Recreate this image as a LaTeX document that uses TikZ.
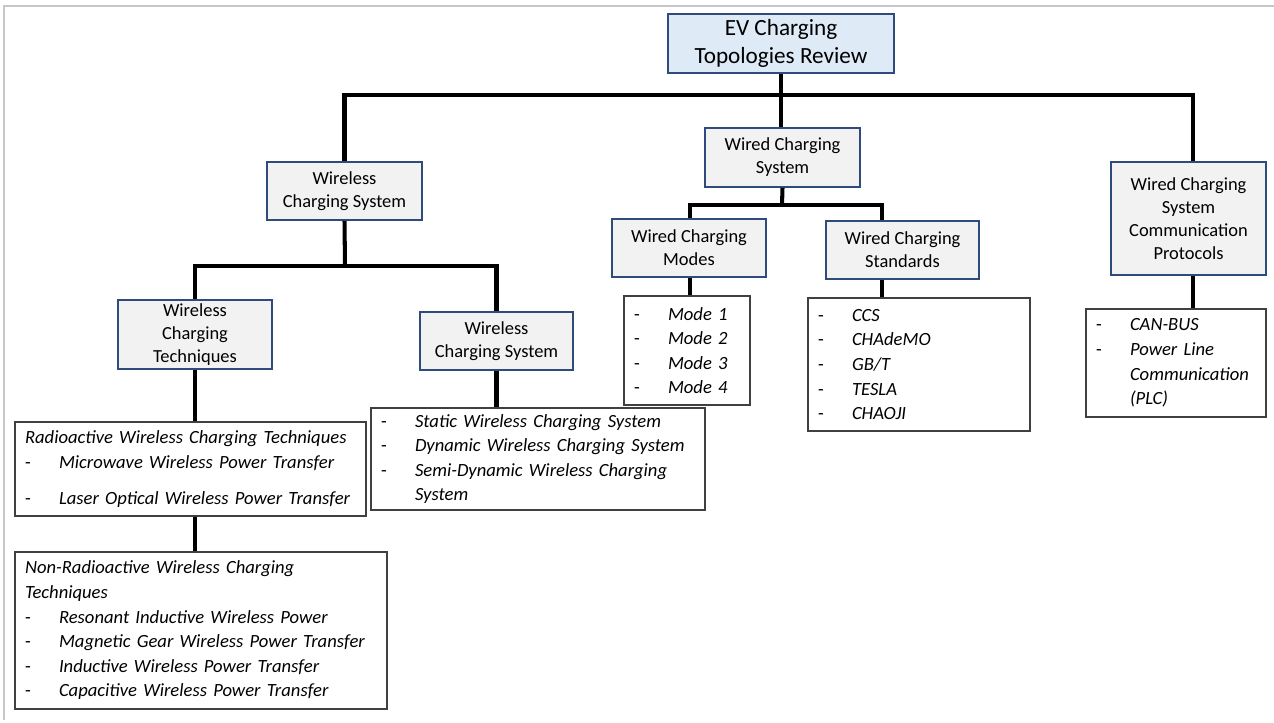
\documentclass[tikz,border=0pt]{standalone}
\usepackage{fontspec}
\setmainfont{Carlito}
\usetikzlibrary{calc}
\definecolor{rootfill}{HTML}{DEEBF7}
\definecolor{boxfill}{HTML}{F2F2F2}
\definecolor{boxline}{HTML}{2F4B7C}
\definecolor{listline}{HTML}{404040}
\newcommand{\itm}[1]{\makebox[0.68cm][l]{-}\textit{#1}}
\newcommand{\cont}[1]{\hspace*{0.68cm}\textit{#1}}
\begin{document}
\begin{tikzpicture}[
    x=0.02cm, y=-0.02cm,
    box/.style={draw=boxline, line width=0.9pt, fill=boxfill, align=center, inner sep=2pt,
        font=\fontsize{10.5}{13}\selectfont},
    rootbox/.style={box, fill=rootfill, font=\fontsize{13.2}{15.5}\selectfont},
    lst/.style={draw=listline, line width=0.7pt, fill=white, align=left, inner xsep=0.2cm, inner ysep=2pt,
        font=\fontsize{10.6}{14}\selectfont},
    conn/.style={line width=2.3pt}
]
\useasboundingbox (0,0) rectangle (1274,723);
\draw[gray!45, line width=0.6pt] (4,720) -- (4,6) -- (1274,6);

% top levels
\node[rootbox, minimum width=4.52cm, minimum height=1.18cm] (root) at (781,43.5) {EV Charging\\Topologies Review};
\node[box, minimum width=3.1cm, minimum height=1.18cm] (wired) at (782.5,157.5) {Wired Charging\\System};
\node[box, minimum width=3.1cm, minimum height=1.16cm] (wless) at (344.5,191) {Wireless\\Charging System};
\node[box, minimum width=3.1cm, minimum height=2.26cm] (proto) at (1188.5,218.5) {Wired Charging\\System\\Communication\\Protocols};

% second levels
\node[box, minimum width=3.08cm, minimum height=1.16cm] (modes) at (689,248) {Wired Charging\\Modes};
\node[box, minimum width=3.06cm, minimum height=1.16cm] (stds) at (902.5,250) {Wired Charging\\Standards};
\node[box, minimum width=3.08cm, minimum height=1.38cm] (tech) at (195,334.5) {Wireless\\Charging\\Techniques};
\node[box, minimum width=3.06cm, minimum height=1.16cm] (wless2) at (496.5,341) {Wireless\\Charging System};

% lists
\node[lst, text width=6.62cm, minimum height=1.88cm] (radio) at (190.5,469) {\textit{Radioactive Wireless Charging Techniques}\\
\itm{Microwave Wireless Power Transfer}\\[0.22cm]
\itm{Laser Optical Wireless Power Transfer}};
\node[lst, text width=7.04cm, minimum height=3.14cm] (nonradio) at (201,630.5) {\textit{Non-Radioactive Wireless Charging}\\
\textit{Techniques}\\
\itm{Resonant Inductive Wireless Power}\\
\itm{Magnetic Gear Wireless Power Transfer}\\
\itm{Inductive Wireless Power Transfer}\\
\itm{Capacitive Wireless Power Transfer}};
\node[lst, text width=6.28cm, minimum height=2.04cm] (static) at (538,459) {\itm{Static Wireless Charging System}\\
\itm{Dynamic Wireless Charging System}\\
\itm{Semi-Dynamic Wireless Charging}\\
\cont{System}};
\node[lst, text width=2.12cm, minimum height=2.18cm] (mlist) at (687,350.5) {\itm{Mode 1}\\\itm{Mode 2}\\\itm{Mode 3}\\\itm{Mode 4}};
\node[lst, text width=4.04cm, minimum height=2.66cm] (slist) at (919,364.5) {\itm{CCS}\\\itm{CHAdeMO}\\\itm{GB/T}\\\itm{TESLA}\\\itm{CHAOJI}};
\node[lst, text width=3.2cm, minimum height=2.16cm] (plist) at (1176,363) {\itm{CAN-BUS}\\\itm{Power Line}\\\cont{Communication}\\\cont{(PLC)}};

% connectors
\coordinate (bus) at (781,95);
\coordinate (wbus) at (345,266);
\coordinate (dbus) at (782,205);
\coordinate (sjoin) at ([xshift=-0.41cm]stds.north);
\coordinate (sfoot) at ([xshift=-0.41cm]stds.south);
\draw[conn] (root.south) -- (root.south |- wired.north);
\draw[conn] (wless.north) |- (bus) -| ([xshift=0.09cm]proto.north);
\draw[conn] (wless.south) -- (wbus);
\draw[conn] (tech.north) |- (wbus) -| (wless2.north);
\draw[conn] (wired.south) -- (dbus);
\draw[conn] ([xshift=0.02cm]modes.north) |- (dbus) -| (sjoin);
\draw[conn] (tech.south) -- (tech.south |- radio.north);
\draw[conn] (tech.south |- radio.south) -- (tech.south |- nonradio.north);
\draw[conn] (wless2.south) -- (wless2.south |- static.north);
\draw[conn] ([xshift=0.02cm]modes.south) -- ([xshift=0.02cm]modes.south |- mlist.north);
\draw[conn] (sfoot) -- (sfoot |- slist.north);
\draw[conn] ([xshift=0.09cm]proto.south) -- ([xshift=0.09cm]proto.south |- plist.north);
\end{tikzpicture}
\end{document}
